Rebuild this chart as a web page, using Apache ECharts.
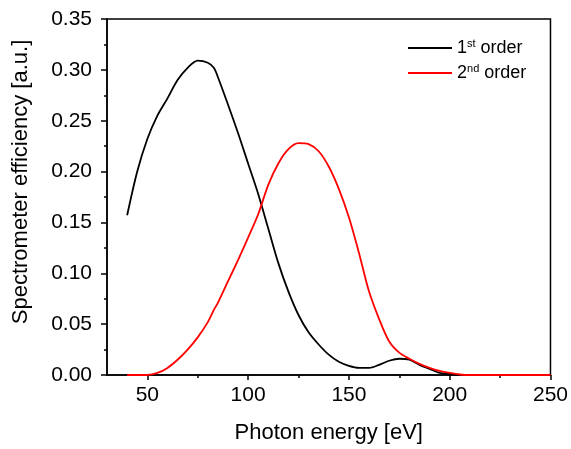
<!DOCTYPE html>
<html>
<head>
<meta charset="utf-8">
<script src="https://cdn.jsdelivr.net/npm/echarts@6/dist/echarts.min.js"></script>
<style>
html,body{margin:0;padding:0;background:#fff}
#Line{width:571px;height:449px}
</style>
</head>
<body>
<div id="Line"></div>
<script>
// photon energy [eV]
var energy = [40,45,50,55,60,65,70,75,80,83,85,90,95,100,105,110,115,120,125,130,135,140,145,150,155,160,165,170,175,180,185,190,195,200,205,210,220,230,240,250]
// 1st order efficiency
var order1 = [0.157,0.200,0.232,0.255,0.272,0.290,0.302,0.309,0.307,0.302,0.293,0.266,0.238,0.208,0.178,0.144,0.110,0.082,0.059,0.042,0.030,0.020,0.013,0.009,0.007,0.007,0.010,0.014,0.016,0.015,0.010,0.006,0.002,0.001,0,null,null,null,null,null]
// 2nd order efficiency
var order2 = [0,0,0,0.002,0.007,0.015,0.025,0.037,0.052,0.064,0.071,0.092,0.113,0.135,0.158,0.187,0.208,0.222,0.228,0.227,0.220,0.205,0.183,0.155,0.120,0.082,0.055,0.033,0.022,0.016,0.011,0.007,0.004,0.002,0.0005,0,0,0,0,0]
var xTicks = [50,100,150,200,250]
var xMinor = [75,125,175,225]

function pairs(ys){
  var out = []
  for (var i = 0; i < energy.length; i++) {
    if (ys[i] !== null) out.push([energy[i], ys[i]])
  }
  return out
}

var font = "'Liberation Sans', Arial, sans-serif"
var chart = echarts.init(document.getElementById("Line"))
chart.setOption({
  animation: false,
  grid: {left: 107, right: 19, top: 19, bottom: 72, show: true, borderColor: "#000", borderWidth: 1.5, backgroundColor: "transparent"},
  //图例
  legend: {
    left: 408, top: 38, orient: "vertical", itemGap: 6, padding: 0,
    itemWidth: 44, itemHeight: 2,
    icon: "rect",
    data: ["1st order", "2nd order"],
    formatter: function(name){
      return name === "1st order" ? "{a|1}{s|st}{a| order}" : "{a|2}{s|nd}{a| order}"
    },
    textStyle: {
      fontFamily: font, color: "#000",
      rich: {
        a: {fontSize: 18, fontFamily: font, color: "#000", lineHeight: 20},
        s: {fontSize: 11, fontFamily: font, color: "#000", verticalAlign: "top", lineHeight: 20}
      }
    }
  },
  xAxis: [{
    type: "value", min: 30, max: 250,
    name: "Photon energy [eV]", nameLocation: "middle", nameGap: 47,
    nameTextStyle: {fontSize: 22, fontFamily: font, color: "#000"},
    axisLine: {onZero: false, lineStyle: {color: "#000", width: 1.5}},
    axisTick: {customValues: xTicks, length: 5, lineStyle: {color: "#000", width: 1.5}},
    axisLabel: {customValues: xTicks, fontSize: 21, fontFamily: font, color: "#000", margin: 10},
    splitLine: {show: false}
  }, {
    // 次刻度
    type: "value", min: 30, max: 250, position: "bottom",
    axisLine: {show: false},
    axisTick: {customValues: xMinor, length: 3, lineStyle: {color: "#000", width: 1.5}},
    axisLabel: {show: false},
    splitLine: {show: false}
  }],
  yAxis: {
    type: "value", min: 0, max: 0.35, interval: 0.05,
    name: "Spectrometer efficiency [a.u.]", nameLocation: "middle", nameGap: 75,
    nameTextStyle: {fontSize: 22, fontFamily: font, color: "#000", padding: [0, 0, 0, 30]},
    axisLine: {show: true, lineStyle: {color: "#000", width: 1.5}},
    axisTick: {show: true, length: 6, lineStyle: {color: "#000", width: 1.5}},
    minorTick: {show: true, splitNumber: 2, length: 3, lineStyle: {color: "#000", width: 1.5}},
    axisLabel: {fontSize: 21, fontFamily: font, color: "#000", margin: 15,
      formatter: function(v){ return v.toFixed(2) }},
    splitLine: {show: false}
  },
  series: [{
    name: "1st order", type: "line", xAxisIndex: 0, data: pairs(order1),
    smooth: 0.3, showSymbol: false, lineStyle: {color: "#000", width: 1.8}, itemStyle: {color: "#000"}
  }, {
    name: "2nd order", type: "line", xAxisIndex: 0, data: pairs(order2),
    smooth: 0.3, showSymbol: false, lineStyle: {color: "#ff0000", width: 1.8}, itemStyle: {color: "#ff0000"}
  }]
})
</script>
</body>
</html>
